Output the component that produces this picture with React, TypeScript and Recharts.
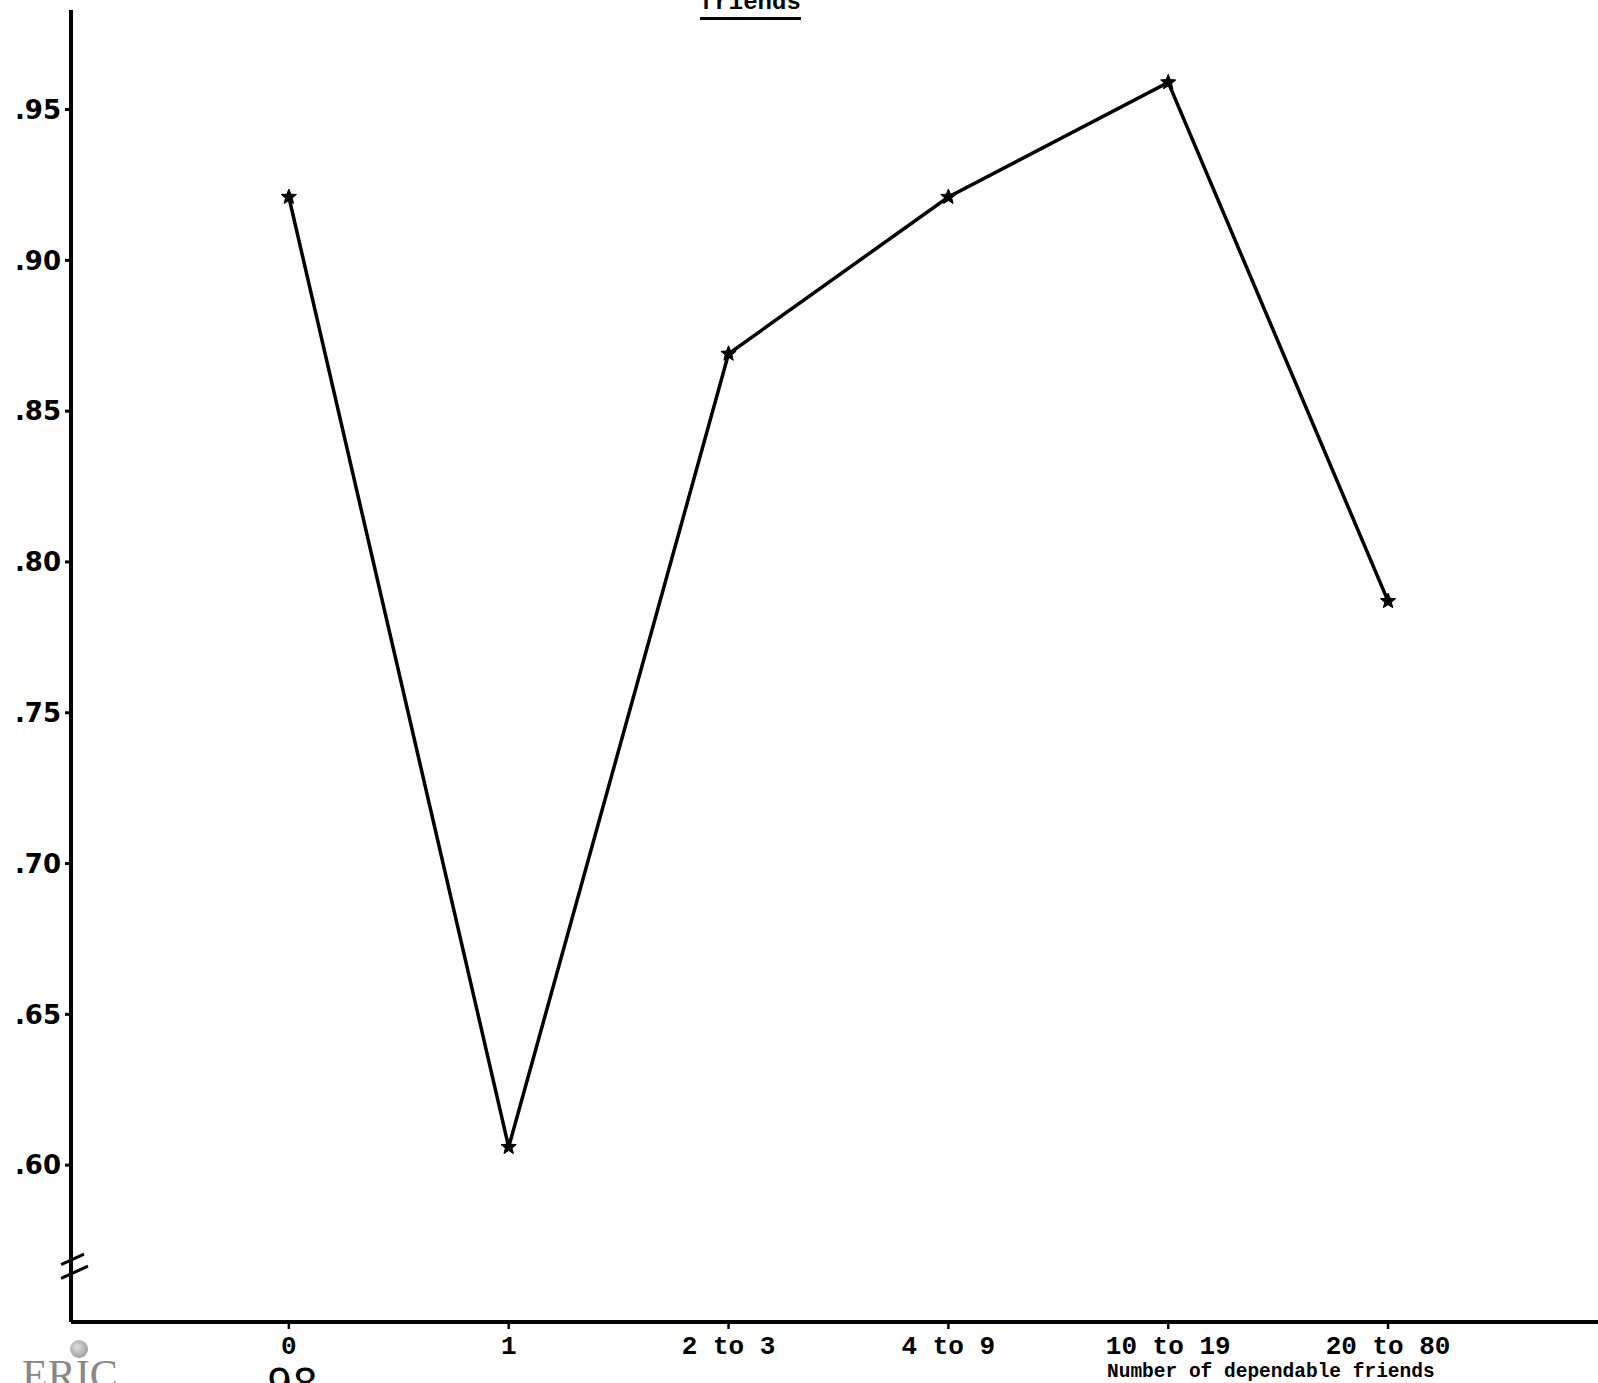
import React from 'react';
import { LineChart, Line, XAxis, YAxis, ReferenceLine } from 'recharts';

const categories = ['0', '1', '2 to 3', '4 to 9', '10 to 19', '20 to 80'];
const proportions = [0.921, 0.606, 0.869, 0.921, 0.959, 0.787];
const yTicks = [0.6, 0.65, 0.7, 0.75, 0.8, 0.85, 0.9, 0.95];
const yTickLabels = ['.60', '.65', '.70', '.75', '.80', '.85', '.90', '.95'];
const xTitle = 'Number of dependable friends';
const topTitle = 'friends';

const data = categories.map((c, i) => ({ pos: i, label: c, value: proportions[i] }));

const mono = '"Liberation Mono", "DejaVu Sans Mono", monospace';

const StarDot = (props: any) => {
  const { cx, cy } = props;
  if (cx == null || cy == null) return null;
  const pts: string[] = [];
  const R = 8;
  const r = 3.5;
  for (let k = 0; k < 10; k++) {
    const ang = (Math.PI / 5) * k - Math.PI / 2;
    const rad = k % 2 === 0 ? R : r;
    pts.push(`${cx + rad * Math.cos(ang)},${cy + rad * Math.sin(ang)}`);
  }
  return <polygon points={pts.join(' ')} fill="#000" stroke="#000" strokeWidth={1} />;
};

export default function App() {
  return (
    <div style={{ position: 'absolute', left: 0, top: 0, width: 1598, height: 1383, background: '#fff', overflow: 'hidden' }}>
      <LineChart
        width={1598}
        height={1383}
        data={data}
        margin={{ top: 10, right: 0, bottom: 0, left: 0 }}
      >
        <XAxis
          type="number"
          dataKey="pos"
          domain={[-0.991, 5.955]}
          ticks={[0, 1, 2, 3, 4, 5]}
          tickFormatter={(v: number) => categories[v]}
          allowDataOverflow
          height={61}
          axisLine={{ stroke: '#000', strokeWidth: 4 }}
          tickLine={{ stroke: '#000', strokeWidth: 2.5 }}
          tickSize={7}
          tickMargin={7}
          tick={{ fill: '#000', fontFamily: mono, fontWeight: 700, fontSize: 26 }}
        />
        <YAxis
          type="number"
          domain={[0.548, 0.983]}
          ticks={yTicks}
          tickFormatter={(v: number) => yTickLabels[yTicks.indexOf(v)] ?? ''}
          allowDataOverflow
          width={71}
          axisLine={{ stroke: '#000', strokeWidth: 4 }}
          tickLine={{ stroke: '#000', strokeWidth: 3 }}
          tickSize={6}
          tickMargin={4}
          tick={{ fill: '#000', fontFamily: '"DejaVu Sans", sans-serif', fontWeight: 700, fontSize: 26 }}
        />
        <ReferenceLine
          segment={[{ x: -1.036, y: 0.567 }, { x: -0.932, y: 0.5705 }]}
          stroke="#000"
          strokeWidth={3}
          ifOverflow="visible"
        />
        <ReferenceLine
          segment={[{ x: -1.036, y: 0.5625 }, { x: -0.914, y: 0.5665 }]}
          stroke="#000"
          strokeWidth={3}
          ifOverflow="visible"
        />
        <Line
          type="linear"
          dataKey="value"
          stroke="#000"
          strokeWidth={3.5}
          dot={<StarDot />}
          activeDot={false}
          isAnimationActive={false}
        />
      </LineChart>
      <div style={{ position: 'absolute', left: 1107, top: 1362, fontFamily: mono, fontWeight: 700, fontSize: 19.5, color: '#000', whiteSpace: 'nowrap', lineHeight: '20px' }}>
        {xTitle}
      </div>
      <div style={{ position: 'absolute', left: 700, top: -10, fontFamily: mono, fontWeight: 700, fontSize: 24, color: '#000', borderBottom: '3px solid #000', lineHeight: '26px', paddingBottom: 1 }}>
        {topTitle}
      </div>
      <div style={{ position: 'absolute', left: 70, top: 1340, width: 18, height: 18, borderRadius: 9, background: 'radial-gradient(circle at 40% 40%, #ddd, #888)' }} />
      <div style={{ position: 'absolute', left: 22, top: 1354, fontFamily: '"Liberation Serif", serif', fontSize: 42, color: '#888', lineHeight: '42px' }}>
        ERIC
      </div>
      <div style={{ position: 'absolute', left: 267, top: 1364, fontFamily: '"DejaVu Sans", sans-serif', fontSize: 40, color: '#000', lineHeight: '40px' }}>
        98
      </div>
    </div>
  );
}
